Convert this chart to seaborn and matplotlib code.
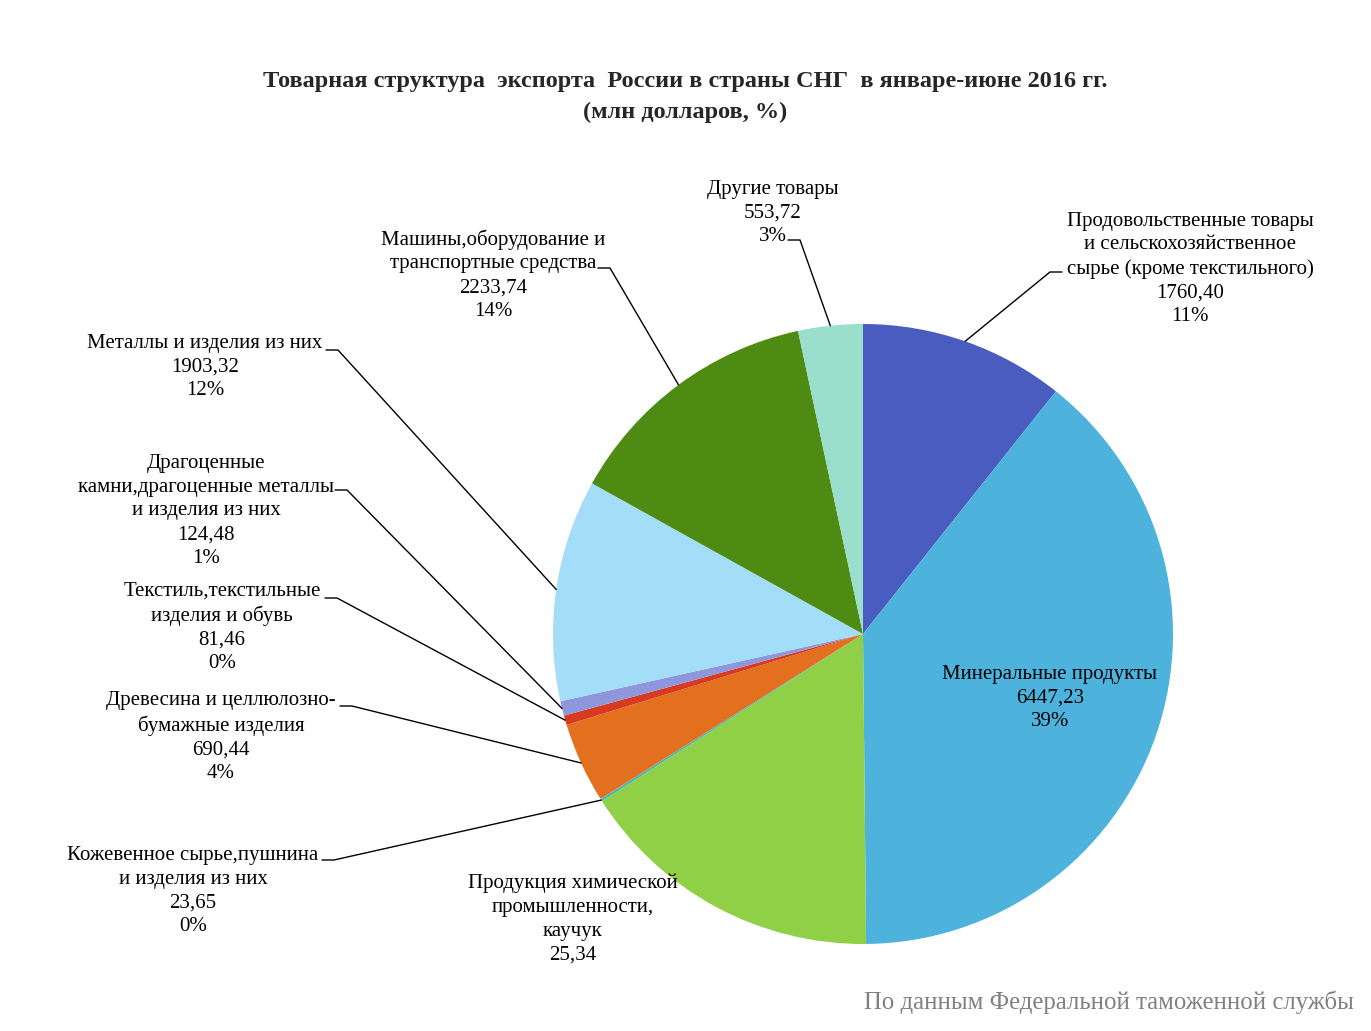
import numpy as np
import matplotlib
matplotlib.use("Agg")
import matplotlib.pyplot as plt
import seaborn as sns

# Данные (млн долларов), по часовой стрелке от 12 часов
categories = [
    "Продовольственные товары\nи сельскохозяйственное\nсырье (кроме текстильного)",
    "Минеральные продукты",
    "Продукция химической\nпромышленности,\nкаучук",
    "Кожевенное сырье,пушнина\nи изделия из них",
    "Древесина и целлюлозно-\nбумажные изделия",
    "Текстиль,текстильные\nизделия и обувь",
    "Драгоценные\nкамни,драгоценные металлы\nи изделия из них",
    "Металлы и изделия из них",
    "Машины,оборудование и\nтранспортные средства",
    "Другие товары",
]
values = [1760.40, 6447.23, 2650.00, 23.65, 690.44, 81.46, 124.48, 1903.32, 2233.74, 553.72]
value_labels = ["1760,40", "6447,23", "25,34", "23,65", "690,44", "81,46", "124,48", "1903,32", "2233,74", "553,72"]
percent_labels = ["11%", "39%", "", "0%", "4%", "0%", "1%", "12%", "14%", "3%"]
colors = ["#4A5CBF", "#4DB3DC", "#8FD047", "#4DBAB0", "#E2701F", "#D73A20",
          "#8E96DC", "#A3DDF7", "#4E8B12", "#9ADFCB"]

sns.set_theme(style="white")
plt.rcParams['font.family'] = ['Liberation Serif', 'DejaVu Serif']

W, H = 1371, 1031
fig = plt.figure(figsize=(W / 100, H / 100), dpi=100)
ax = fig.add_axes([0, 0, 1, 1])

# пирог: центр и радиус в пикселях (ось y вниз)
cx, cy, R = 863, 634, 310
wedges, _ = ax.pie(values, colors=colors, startangle=-90, counterclock=True,
                   center=(cx, cy), radius=R, frame=True,
                   wedgeprops=dict(linewidth=0))
ax.set_xlim(0, W)
ax.set_ylim(H, 0)
ax.axis("off")

# позиции подписей: (x центра, y центра блока, точка начала выноски, сторона выноски)
label_pos = [
    (1190, 269, (1062, 272), -1),
    (1050, 698, None, 0),
    (573, 919, None, 0),
    (193, 891, (322, 860), 1),
    (221, 737, (340, 706), 1),
    (222, 627, (325, 598), 1),
    (206, 511, (335, 490), 1),
    (205, 367, (326, 350), 1),
    (493, 275, (598, 268), 1),
    (773, 213, (788, 240), 1),
]

total = sum(values)
start = 0.0
for i, v in enumerate(values):
    frac = v / total
    mid = (start + frac / 2) * 2 * np.pi
    start += frac
    px = cx + R * np.sin(mid)
    py = cy - R * np.cos(mid)
    lines = categories[i] + "\n" + value_labels[i]
    if percent_labels[i]:
        lines += "\n" + percent_labels[i]
    x, y, anchor, side = label_pos[i]
    ax.text(x, y, lines, ha="center", va="center", multialignment="center",
            fontsize=15, linespacing=1.33, color="black")
    if anchor is not None:
        ax.plot([anchor[0], anchor[0] + side * 12, px],
                [anchor[1], anchor[1], py], color="black", lw=1.0)

fig.text(0.5, 1 - 82 / H, "Товарная структура  экспорта  России в страны СНГ  в январе-июне 2016 гг.",
         ha="center", va="center", fontsize=17.5, fontweight="bold")
fig.text(0.5, 1 - 112 / H, "(млн долларов, %)",
         ha="center", va="center", fontsize=17.5, fontweight="bold")
fig.text(1 - 17 / W, 1 - 1002 / H, "По данным Федеральной таможенной службы",
         ha="right", va="center", fontsize=17.8, color="#808080")

fig.savefig("out.png", dpi=100, facecolor="white")
